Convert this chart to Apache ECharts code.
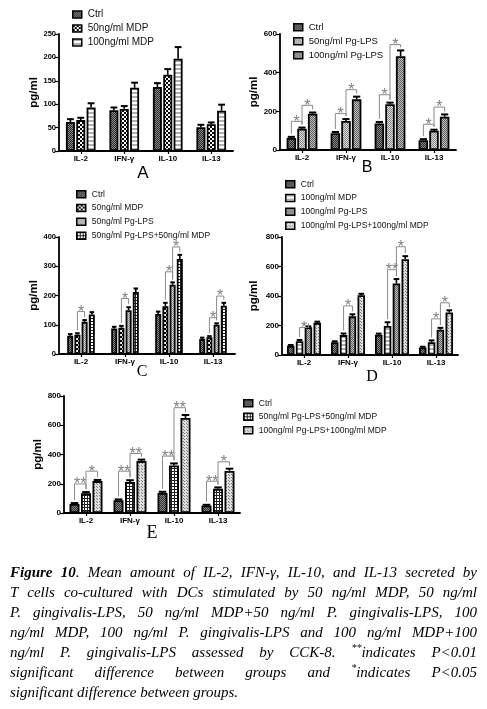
<!DOCTYPE html>
<html><head><meta charset="utf-8">
<script src="https://cdn.jsdelivr.net/npm/echarts@6/dist/echarts.min.js"></script>
<style>
html,body{margin:0;padding:0;background:#fff;}
#chart{position:absolute;left:0;top:0;width:487px;height:709px;}
#cap{position:absolute;left:10px;top:562px;width:467px;font-family:'Liberation Serif','Times New Roman',serif;font-style:italic;font-size:15px;line-height:20px;color:#000;}
#cap div{text-align:justify;text-align-last:justify;height:20px;white-space:nowrap;}
#cap div.last{text-align-last:left;}
#cap sup{font-size:10px;line-height:0;vertical-align:6px;}
</style></head><body>
<div id="chart"></div>
<div id="cap">
<div><b>Figure 10</b>. Mean amount of IL-2, IFN-γ, IL-10, and IL-13 secreted by</div>
<div>T cells co-cultured with DCs stimulated by 50 ng/ml MDP, 50 ng/ml</div>
<div>P. gingivalis-LPS, 50 ng/ml MDP+50 ng/ml P. gingivalis-LPS, 100</div>
<div>ng/ml MDP, 100 ng/ml P. gingivalis-LPS and 100 ng/ml MDP+100</div>
<div>ng/ml P. gingivalis-LPS assessed by CCK-8. <sup>**</sup>indicates P&lt;0.01</div>
<div>significant difference between groups and <sup>*</sup>indicates P&lt;0.05</div>
<div class="last">significant difference between groups.</div>
</div>
<script>
// ---------------- data ----------------
const categories = ['IL-2', 'IFN-γ', 'IL-10', 'IL-13'];
const ctrl = [62, 87, 137, 51];
const ctrlErr = [6, 6, 8, 5];
const mdp50 = [66, 90, 163, 57];
const mdp50Err = [5, 6, 12, 4];
const mdp100 = [93, 135, 197, 86];
const mdp100Err = [9, 11, 25, 13];
const lps50 = [110, 150, 237, 100];
const lps50Err = [6, 10, 8, 5];
const lps100 = [188, 262, 485, 172];
const lps100Err = [6, 14, 30, 12];
const combo50 = [135, 212, 325, 165];
const combo50Err = [8, 12, 14, 10];
const combo100D = [218, 405, 650, 288];   // as read in panel D
const combo100E = [218, 355, 650, 288];   // as read in panel E
const combo100Err = [8, 10, 20, 15];
// axis ranges (max, tick interval) per panel A..E
const axisMax = [250, 600, 400, 800, 800];
const axisInterval = [50, 200, 100, 200, 200];
// significance brackets: [category, group a, group b, bracket level (pg/ml), mark]
const bracketsA = [];
const bracketsB = [[0,0,1,148,'*'],[0,1,2,231,'*'],[1,0,1,188,'*'],[1,1,2,312,'*'],[2,0,1,286,'*'],[2,1,2,545,'*'],[3,0,1,133,'*'],[3,1,2,222,'*']];
const bracketsC = [[0,1,2,145,'*'],[1,1,2,190,'*'],[2,1,2,281,'*'],[2,2,3,366,'*'],[3,1,2,124,'*'],[3,2,3,198,'*']];
const bracketsD = [[0,1,2,186,'*'],[1,1,2,333,'*'],[2,1,2,578,'**'],[2,2,3,734,'*'],[3,1,2,245,'*'],[3,2,3,354,'*']];
const bracketsE = [[0,0,1,199,'**'],[0,1,2,286,'*'],[1,0,1,286,'**'],[1,1,2,407,'**'],[2,0,1,389,'**'],[2,1,2,720,'**'],[3,0,1,217,'**'],[3,1,2,350,'*']];

// ---------------- fill patterns ----------------
function pattern(size, draw) {
  const c = document.createElement('canvas');
  c.width = size; c.height = size;
  const g = c.getContext('2d');
  draw(g);
  return { image: c, repeat: 'repeat' };
}
const P = {
  ctrl: pattern(2, g => { g.fillStyle = '#2a2a2a'; g.fillRect(0,0,2,2); g.fillStyle = '#8a8a8a'; g.fillRect(0,0,1,1); g.fillRect(1,1,1,1); }),
  mdp50: pattern(4, g => { g.fillStyle = '#fff'; g.fillRect(0,0,4,4); g.fillStyle = '#000'; g.fillRect(0,0,2,2); g.fillRect(2,2,2,2); }),
  mdp100: pattern(4, g => { g.fillStyle = '#fff'; g.fillRect(0,0,4,4); g.fillStyle = '#b0b0b0'; g.fillRect(0,0,4,2); }),
  lps50: pattern(2, g => { g.fillStyle = '#dcdcdc'; g.fillRect(0,0,2,2); g.fillStyle = '#888'; g.fillRect(0,0,1,1); g.fillRect(1,1,1,1); }),
  lps100: pattern(2, g => { g.fillStyle = '#c0c0c0'; g.fillRect(0,0,2,2); g.fillStyle = '#5e5e5e'; g.fillRect(0,0,1,1); g.fillRect(1,1,1,1); }),
  combo50: pattern(3, g => { g.fillStyle = '#fff'; g.fillRect(0,0,3,3); g.fillStyle = '#222'; g.fillRect(0,0,3,1); g.fillRect(0,0,1,3); }),
  combo100: pattern(3, g => { g.fillStyle = '#e0e0e0'; g.fillRect(0,0,3,3); g.fillStyle = '#7a7a7a'; g.fillRect(1,1,1,1); g.fillRect(0,0,1,1); })
};

const G = {
  ctrl: ['Ctrl', ctrl, ctrlErr, P.ctrl],
  mdp50: ['50ng/ml MDP', mdp50, mdp50Err, P.mdp50],
  mdp100: ['100ng/ml MDP', mdp100, mdp100Err, P.mdp100],
  lps50: ['50ng/ml Pg-LPS', lps50, lps50Err, P.lps50],
  lps100: ['100ng/ml Pg-LPS', lps100, lps100Err, P.lps100],
  combo50: ['50ng/ml Pg-LPS+50ng/ml MDP', combo50, combo50Err, P.combo50],
  combo100D: ['100ng/ml Pg-LPS+100ng/ml MDP', combo100D, combo100Err, P.combo100],
  combo100E: ['100ng/ml Pg-LPS+100ng/ml MDP', combo100E, combo100Err, P.combo100]
};

const SANS = '"Liberation Sans", Arial, sans-serif';
const SERIF = '"Liberation Serif", "Times New Roman", serif';

const panels = [
  { grid: {left:59, top:34, width:174, height:117}, groups: [G.ctrl, G.mdp50, G.mdp100], bw: 9, gap: 0.15, br: bracketsA,
    legend: {left:72, top:9, fs:10, gap:3}, nameGap: 19, tickFs: 7.5,
    label: {text:'A', x:143, y:173, font:'17px ' + SANS} },
  { grid: {left:280, top:34, width:176, height:116}, groups: [G.ctrl, G.lps50, G.lps100], bw: 9.5, gap: 0.12, br: bracketsB,
    legend: {left:293, top:22, fs:9.5, gap:3.5}, nameGap: 1, tickFs: 8,
    label: {text:'B', x:367, y:168, font:'16px ' + SANS} },
  { grid: {left:59, top:237, width:176, height:117}, groups: [G.ctrl, G.mdp50, G.lps50, G.combo50], bw: 6, gap: 0.2, br: bracketsC,
    legend: {left:76, top:189.5, fs:8.5, gap:4.3}, nameGap: 19, tickFs: 7.5,
    label: {text:'C', x:142, y:372, font:'16px ' + SERIF} },
  { grid: {left:282, top:237, width:176, height:118}, groups: [G.ctrl, G.mdp100, G.lps100, G.combo100D], bw: 7.5, gap: 0.18, br: bracketsD,
    legend: {left:285, top:179.5, fs:8.5, gap:4.3}, nameGap: 22, tickFs: 8,
    label: {text:'D', x:372, y:377, font:'16px ' + SERIF} },
  { grid: {left:64, top:396, width:176, height:117}, groups: [G.ctrl, G.combo50, G.combo100E], bw: 10, gap: 0.15, br: bracketsE,
    legend: {left:243, top:398.5, fs:8.5, gap:4}, nameGap: 17, tickFs: 8,
    label: {text:'E', x:152, y:533, font:'18px ' + SERIF} }
];

const option = {
  animation: false,
  backgroundColor: '#fff',
  grid: [], xAxis: [], yAxis: [], series: [], legend: [], graphic: []
};

panels.forEach((p, i) => {
  const n = p.groups.length;
  const step = p.bw * (1 + p.gap);
  const off = s => (s - (n - 1) / 2) * step;
  option.grid.push(Object.assign({ containLabel: false, outerBoundsMode: 'none' }, p.grid));
  option.xAxis.push({
    type: 'category', gridIndex: i, data: categories,
    axisLine: { show: true, lineStyle: { color: '#000', width: 1.8 } },
    axisTick: { show: true, alignWithLabel: true, length: 3, lineStyle: { color: '#000', width: 1.2 } },
    axisLabel: { interval: 0, margin: 4, color: '#000', fontWeight: 'bold', fontSize: 8, fontFamily: SANS },
    splitLine: { show: false }
  });
  option.yAxis.push({
    type: 'value', gridIndex: i, min: 0, max: axisMax[i], interval: axisInterval[i],
    name: 'pg/ml', nameLocation: 'middle', nameGap: p.nameGap, nameRotate: 90,
    nameTextStyle: { color: '#000', fontWeight: 'bold', fontSize: 11.5, fontFamily: SANS },
    axisLine: { show: true, lineStyle: { color: '#000', width: 1.8 } },
    axisTick: { show: true, inside: false, length: 4, lineStyle: { color: '#000', width: 1.2 } },
    axisLabel: { margin: 3, color: '#000', fontWeight: 'bold', fontSize: p.tickFs, fontFamily: SANS },
    splitLine: { show: false }
  });
  // bars
  p.groups.forEach(gr => {
    option.series.push({
      type: 'bar', name: gr[0], xAxisIndex: i, yAxisIndex: i, data: gr[1],
      barWidth: p.bw, barGap: (p.gap * 100) + '%',
      itemStyle: { color: gr[3], borderColor: '#000', borderWidth: 1.8 },
      emphasis: { disabled: true }, silent: true, z: 2
    });
  });
  // error bars (upper SEM)
  const errData = [];
  p.groups.forEach((gr, s) => gr[1].forEach((v, c) => errData.push([c, s, v, gr[2][c]])));
  option.series.push({
    type: 'custom', xAxisIndex: i, yAxisIndex: i, silent: true, z: 3,
    data: errData, encode: { x: 0, y: 2 },
    renderItem: (params, api) => {
      const c = api.value(0), s = api.value(1), m = api.value(2), e = api.value(3);
      const base = api.coord([c, m]);
      const top = api.coord([c, m + e]);
      const x = base[0] + off(s);
      const hw = p.bw * 0.38;
      return { type: 'group', children: [
        { type: 'line', shape: { x1: x, y1: base[1], x2: x, y2: top[1] }, style: { stroke: '#000', lineWidth: 1.6 } },
        { type: 'line', shape: { x1: x - hw, y1: top[1], x2: x + hw, y2: top[1] }, style: { stroke: '#000', lineWidth: 2 } }
      ] };
    }
  });
  // significance brackets
  if (p.br.length) {
    option.series.push({
      type: 'custom', xAxisIndex: i, yAxisIndex: i, silent: true, z: 4,
      data: p.br.map(b => [b[0], b[3]]), encode: { x: 0, y: 1 },
      renderItem: (params, api) => {
        const b = p.br[params.dataIndex];
        const c = b[0], sa = b[1], sb = b[2];
        const ga = p.groups[sa], gb = p.groups[sb];
        const cx = api.coord([c, 0])[0];
        const xa = cx + off(sa), xb = cx + off(sb);
        const ya = api.coord([c, ga[1][c] + ga[2][c]])[1] - 3;
        const yb = api.coord([c, gb[1][c] + gb[2][c]])[1] - 3;
        const yh = api.coord([c, b[3]])[1];
        return { type: 'group', children: [
          { type: 'polyline', shape: { points: [[xa, ya], [xa, yh], [xb, yh], [xb, yb]] },
            style: { stroke: '#8a8a8a', lineWidth: 1, fill: 'none' } },
          { type: 'text', style: { text: b[4], x: (xa + xb) / 2, y: yh + 1, align: 'center', verticalAlign: 'middle',
            fill: '#808080', font: '16px ' + SANS } }
        ] };
      }
    });
  }
  // legend
  option.legend.push({
    orient: 'vertical', left: p.legend.left, top: p.legend.top, padding: 0,
    itemWidth: 9, itemHeight: 7, itemGap: p.legend.gap, icon: 'rect',
    selectedMode: false,
    data: p.groups.map(g => g[0]),
    itemStyle: { borderColor: '#000', borderWidth: 1.5 },
    textStyle: { fontSize: p.legend.fs, lineHeight: p.legend.fs + 1, color: '#111', fontFamily: SANS, padding: [0, 0, 0, 1] }
  });
  // panel letter
  option.graphic.push({
    type: 'text', x: p.label.x, y: p.label.y,
    style: { text: p.label.text, align: 'center', verticalAlign: 'middle', font: p.label.font, fill: '#000' }
  });
});

const chart = echarts.init(document.getElementById('chart'), null, { renderer: 'canvas', width: 487, height: 709 });
chart.setOption(option);
</script>
</body></html>
